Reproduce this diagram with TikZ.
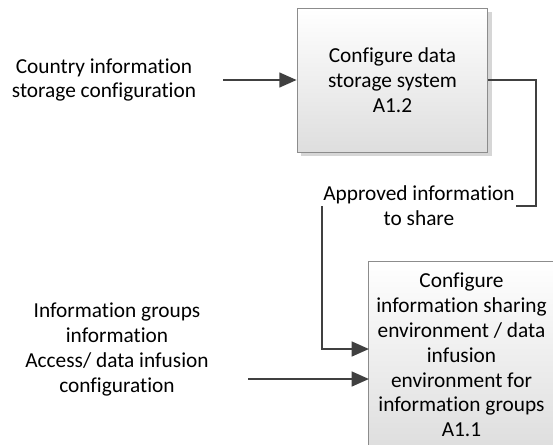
\documentclass[tikz,border=0pt]{standalone}
\usepackage{fontspec}
\setmainfont{Carlito}[Ligatures=NoCommon]
\usepackage{tikz}
\usetikzlibrary{arrows.meta,shadows}

\definecolor{lineGray}{HTML}{404040}

\begin{document}
\begin{tikzpicture}[x=0.75pt, y=-0.75pt,
  every node/.style={font=\fontsize{16pt}{18.6pt}\selectfont, align=center},
  activity/.style={draw=black!45, line width=0.75pt, top color=white, bottom color=black!13,
    drop shadow={shadow xshift=3pt, shadow yshift=-3pt, fill=black!16, opacity=1}},
  flow/.style={draw=lineGray, line width=1.8pt},
  flowin/.style={flow, -{Triangle[length=13pt, width=11pt]}}]
 \clip (0,0) rectangle (553,444);
 % activity boxes
 \node[activity, minimum width=143pt, minimum height=108pt] (A12) at (392.5,80)
   {Configure data\\storage system\\A1.2};
 \node[activity, minimum width=139pt, minimum height=140pt] (A11) at (461.5,355)
   {Configure\\information sharing\\environment / data\\infusion\\environment for\\information groups\\A1.1};
 % labels
 \node (country) at (104,80) {Country information\\storage configuration};
 \node (groups) at (117,349.5) {Information groups\\information\\Access/ data infusion\\configuration};
 \node[inner sep=1pt] (approved) at (419,206) {Approved information\\to share};
 % connector ends
 \coordinate (src1) at (223,80);
 \coordinate (src2) at (248,379);
 \coordinate (turn) at (536,80);
 \coordinate (in1) at (369,349);
 \coordinate (in2) at (369,379);
 % flows
 \draw[flowin] (src1) -- (A12.west);
 \draw[flow] (A12.east) -- (turn) |- (approved.east);
 \draw[flowin] (approved.west) |- (in1);
 \draw[flowin] (src2) -- (in2);
\end{tikzpicture}
\end{document}
